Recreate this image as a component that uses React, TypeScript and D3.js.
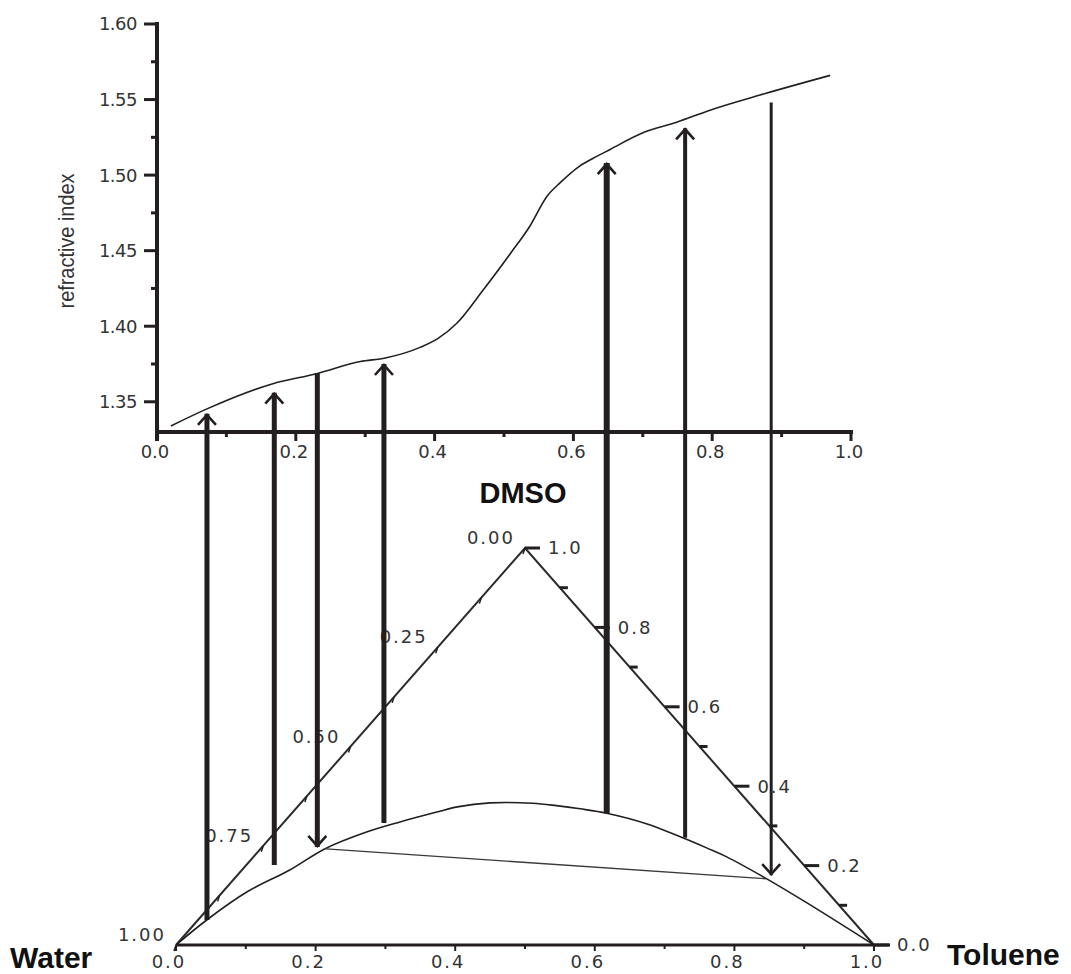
import * as d3 from "d3";
import { useEffect, useRef } from "react";

// top panel: refractive index vs DMSO fraction
const refractiveX = [0.02, 0.072, 0.167, 0.23, 0.293, 0.329, 0.379, 0.405, 0.432, 0.47, 0.509, 0.537, 0.562, 0.581, 0.609, 0.628, 0.653, 0.7, 0.749, 0.797, 0.869, 0.97];
const refractiveN = [1.334, 1.3453, 1.362, 1.3686, 1.3766, 1.379, 1.386, 1.392, 1.402, 1.424, 1.448, 1.466, 1.486, 1.495, 1.506, 1.511, 1.517, 1.528, 1.535, 1.543, 1.553, 1.566];
const yTicks = [1.35, 1.4, 1.45, 1.5, 1.55, 1.6];
const yMinorTicks = [1.375, 1.425, 1.475, 1.525, 1.575];
const xTicks = [0, 0.2, 0.4, 0.6, 0.8, 1.0];
const xMinorTicks = [0.1, 0.3, 0.5, 0.7, 0.9];

// bottom panel: binodal curve (position along Water-Toluene base, DMSO fraction)
const binodalX = [0, 0.044, 0.102, 0.163, 0.213, 0.274, 0.321, 0.374, 0.403, 0.45, 0.511, 0.545, 0.579, 0.617, 0.675, 0.726, 0.761, 0.789, 0.847, 0.904, 1.0];
const binodalD = [0, 0.063, 0.134, 0.189, 0.242, 0.285, 0.31, 0.335, 0.348, 0.358, 0.357, 0.351, 0.343, 0.332, 0.305, 0.27, 0.244, 0.222, 0.166, 0.106, 0];
const tieX = [0.215, 0.845];
const tieD = [0.242, 0.167];

// arrows linking the two panels
const arrowX = [0.072, 0.169, 0.231, 0.327, 0.648, 0.761, 0.885];
const arrowTopN = [1.342, 1.356, 1.369, 1.375, 1.508, 1.531, 1.548];
const arrowBottomD = [0.063, 0.2015, 0.247, 0.307, 0.332, 0.27, 0.176];
const arrowHead = ["up", "up", "down", "up", "up", "up", "down"];
const arrowStroke = [5, 5, 5, 5, 6, 4, 3];

const leftLabels = ["0.00", "0.25", "0.50", "0.75", "1.00"];
const rightLabels = ["1.0", "0.8", "0.6", "0.4", "0.2", "0.0"];
const bottomLabels = ["0.0", "0.2", "0.4", "0.6", "0.8", "1.0"];

const W = 1071;
const H = 974;
const ink = "#231f20";
const labelColor = "#333";
const tickFont = "'DejaVu Sans', Verdana, sans-serif";
const boldFont = "'Liberation Sans', Arial, sans-serif";

export default function App() {
  const svgRef = useRef<SVGSVGElement | null>(null);

  useEffect(() => {
    if (svgRef.current) drawChart(svgRef.current);
  }, []);

  return (
    <svg
      ref={svgRef}
      width={W}
      height={H}
      style={{ position: "absolute", left: 0, top: 0, background: "#fff" }}
    />
  );
}

function drawChart(svgElement: SVGSVGElement) {
  const svg = d3.select(svgElement);
  svg.selectAll("*").remove();

  const xTop = d3.scaleLinear().domain([0, 1]).range([157, 851]);
  const yTop = d3.scaleLinear().domain([1.33, 1.6]).range([432, 24]);
  const xTer = d3.scaleLinear().domain([0, 1]).range([176, 874]);
  const yTer = d3.scaleLinear().domain([0, 1]).range([945, 548]);

  // ---------- top chart ----------
  const top = svg.append("g");

  top
    .append("path")
    .attr("fill", "none")
    .attr("stroke", ink)
    .attr("stroke-width", 1.6)
    .attr(
      "d",
      d3
        .line<number>()
        .x((d) => xTop(refractiveX[d]))
        .y((d) => yTop(refractiveN[d]))
        .curve(d3.curveMonotoneX)(refractiveX.map((_, i) => i))
    );

  // y axis
  top
    .append("line")
    .attr("x1", xTop(0))
    .attr("x2", xTop(0))
    .attr("y1", yTop(1.6) - 2)
    .attr("y2", 441)
    .attr("stroke", ink)
    .attr("stroke-width", 4);
  top
    .selectAll(".ymaj")
    .data(yTicks)
    .join("line")
    .attr("x1", xTop(0) - 13)
    .attr("x2", xTop(0))
    .attr("y1", (d) => yTop(d))
    .attr("y2", (d) => yTop(d))
    .attr("stroke", ink)
    .attr("stroke-width", 3);
  top
    .selectAll(".ymin")
    .data(yMinorTicks)
    .join("line")
    .attr("x1", xTop(0) - 6)
    .attr("x2", xTop(0))
    .attr("y1", (d) => yTop(d))
    .attr("y2", (d) => yTop(d))
    .attr("stroke", ink)
    .attr("stroke-width", 3);
  top
    .selectAll(".ylab")
    .data(yTicks)
    .join("text")
    .attr("x", 137)
    .attr("y", (d) => yTop(d))
    .attr("dy", "0.36em")
    .attr("text-anchor", "end")
    .attr("fill", labelColor)
    .style("font-family", tickFont)
    .style("font-size", "18px")
    .style("letter-spacing", "-0.5px")
    .text((d) => d3.format(".2f")(d));

  top
    .append("text")
    .attr("transform", `translate(74, 241) rotate(-90)`)
    .attr("text-anchor", "middle")
    .attr("fill", labelColor)
    .attr("textLength", 135)
    .attr("lengthAdjust", "spacingAndGlyphs")
    .style("font-family", boldFont)
    .style("font-size", "22px")
    .text("refractive index");

  // x axis
  top
    .append("line")
    .attr("x1", xTop(0) - 2)
    .attr("x2", xTop(1) + 2)
    .attr("y1", 432)
    .attr("y2", 432)
    .attr("stroke", ink)
    .attr("stroke-width", 4);
  top
    .selectAll(".xmaj")
    .data(xTicks)
    .join("line")
    .attr("x1", (d) => xTop(d))
    .attr("x2", (d) => xTop(d))
    .attr("y1", 432)
    .attr("y2", 441)
    .attr("stroke", ink)
    .attr("stroke-width", 3);
  top
    .selectAll(".xmin")
    .data(xMinorTicks)
    .join("line")
    .attr("x1", (d) => xTop(d))
    .attr("x2", (d) => xTop(d))
    .attr("y1", 432)
    .attr("y2", 437)
    .attr("stroke", ink)
    .attr("stroke-width", 3);
  top
    .selectAll(".xlab")
    .data(xTicks)
    .join("text")
    .attr("x", (d) => xTop(d) - 2)
    .attr("y", 458)
    .attr("text-anchor", "middle")
    .attr("fill", labelColor)
    .style("font-family", tickFont)
    .style("font-size", "18px")
    .text((d) => d3.format(".1f")(d));

  // ---------- ternary ----------
  const ter = svg.append("g");
  const pt = (x: number, d: number): [number, number] => [xTer(x), yTer(d)];

  ter
    .append("path")
    .attr("fill", "none")
    .attr("stroke", "#2b2b2b")
    .attr("stroke-width", 2)
    .attr("d", d3.line()([pt(0, 0), pt(0.5, 1), pt(1, 0)]));

  ter
    .append("line")
    .attr("x1", xTer(0))
    .attr("x2", xTer(1) + 16)
    .attr("y1", yTer(0))
    .attr("y2", yTer(0))
    .attr("stroke", ink)
    .attr("stroke-width", 3);

  // bottom ticks
  ter
    .selectAll(".bmaj")
    .data(xTicks)
    .join("line")
    .attr("x1", (d) => xTer(d))
    .attr("x2", (d) => xTer(d))
    .attr("y1", yTer(0))
    .attr("y2", yTer(0) + 6)
    .attr("stroke", ink)
    .attr("stroke-width", 2);
  ter
    .selectAll(".bmin")
    .data(xMinorTicks)
    .join("line")
    .attr("x1", (d) => xTer(d))
    .attr("x2", (d) => xTer(d))
    .attr("y1", yTer(0))
    .attr("y2", yTer(0) + 4)
    .attr("stroke", ink)
    .attr("stroke-width", 2);
  ter
    .selectAll(".blab")
    .data(bottomLabels)
    .join("text")
    .attr("x", (_, i) => xTer(xTicks[i]) - 7)
    .attr("y", 968)
    .attr("text-anchor", "middle")
    .attr("fill", labelColor)
    .style("font-family", tickFont)
    .style("font-size", "18px")
    .style("letter-spacing", "2px")
    .text((d) => d);

  // left edge (Water fraction from apex)
  const leftFractions = d3.range(0, 1.0001, 0.125);
  ter
    .selectAll(".lt")
    .data(leftFractions)
    .join("line")
    .attr("x1", (w) => pt((1 - w) / 2, 1 - w)[0])
    .attr("x2", (w) => pt((1 - w) / 2, 1 - w)[0] - 2)
    .attr("y1", (w) => pt((1 - w) / 2, 1 - w)[1])
    .attr("y2", (w) => pt((1 - w) / 2, 1 - w)[1] + 6)
    .attr("stroke", ink)
    .attr("stroke-width", 1.5);
  ter
    .selectAll(".llab")
    .data(leftLabels)
    .join("text")
    .attr("x", (_, i) => pt((1 - i * 0.25) / 2, 1 - i * 0.25)[0] - 10)
    .attr("y", (_, i) => pt((1 - i * 0.25) / 2, 1 - i * 0.25)[1] - 4)
    .attr("text-anchor", "end")
    .attr("fill", labelColor)
    .style("font-family", tickFont)
    .style("font-size", "18px")
    .style("letter-spacing", "2px")
    .text((d) => d);

  // right edge (DMSO fraction)
  const rightFractions = d3.range(0, 10.5).map((i) => i / 10);
  ter
    .selectAll(".rt")
    .data(rightFractions)
    .join("line")
    .attr("x1", (d) => pt(1 - d / 2, d)[0])
    .attr("x2", (d) => pt(1 - d / 2, d)[0] + (Math.round(d * 10) % 2 === 0 ? 15 : 8))
    .attr("y1", (d) => yTer(d))
    .attr("y2", (d) => yTer(d))
    .attr("stroke", ink)
    .attr("stroke-width", 3);
  ter
    .selectAll(".rlab")
    .data(rightLabels)
    .join("text")
    .attr("x", (_, i) => pt(1 - (1 - i * 0.2) / 2, 1 - i * 0.2)[0] + 23)
    .attr("y", (_, i) => yTer(1 - i * 0.2))
    .attr("dy", "0.36em")
    .attr("fill", labelColor)
    .style("font-family", tickFont)
    .style("font-size", "18px")
    .style("letter-spacing", "2px")
    .text((d) => d);

  // binodal curve and tie line
  ter
    .append("path")
    .attr("fill", "none")
    .attr("stroke", ink)
    .attr("stroke-width", 1.6)
    .attr(
      "d",
      d3.line().curve(d3.curveCatmullRom)(binodalX.map((x, i) => pt(x, binodalD[i])))
    );
  ter
    .append("path")
    .attr("fill", "none")
    .attr("stroke", "#3a3a3a")
    .attr("stroke-width", 1.4)
    .attr("d", d3.line()(tieX.map((x, i) => pt(x, tieD[i]))));

  // component names
  const names = [
    { t: "DMSO", x: 523, y: 503, a: "middle", s: 29 },
    { t: "Water", x: 10, y: 968, a: "start", s: 30 },
    { t: "Toluene", x: 947, y: 965, a: "start", s: 30 },
  ];
  svg
    .selectAll(".name")
    .data(names)
    .join("text")
    .attr("x", (d) => d.x)
    .attr("y", (d) => d.y)
    .attr("text-anchor", (d) => d.a)
    .attr("fill", "#111")
    .style("font-family", boldFont)
    .style("font-weight", "bold")
    .style("font-size", (d) => `${d.s}px`)
    .text((d) => d.t);

  // ---------- arrows ----------
  const arrows = svg.append("g");
  arrowX.forEach((x, i) => {
    const px = xTop(x);
    const yT = yTop(arrowTopN[i]);
    const yB = yTer(arrowBottomD[i]);
    arrows
      .append("line")
      .attr("x1", px)
      .attr("x2", px)
      .attr("y1", yT)
      .attr("y2", yB)
      .attr("stroke", ink)
      .attr("stroke-width", arrowStroke[i]);
    if (arrowHead[i] === "up") {
      arrows
        .append("path")
        .attr("fill", "none")
        .attr("stroke", ink)
        .attr("stroke-width", 2.6)
        .attr("d", d3.line()([[px - 9, yT + 11], [px, yT + 1], [px + 9, yT + 11]]));
    } else if (arrowHead[i] === "down") {
      arrows
        .append("path")
        .attr("fill", "none")
        .attr("stroke", ink)
        .attr("stroke-width", 2.6)
        .attr("d", d3.line()([[px - 9, yB - 11], [px, yB - 1], [px + 9, yB - 11]]));
    }
  });
}
